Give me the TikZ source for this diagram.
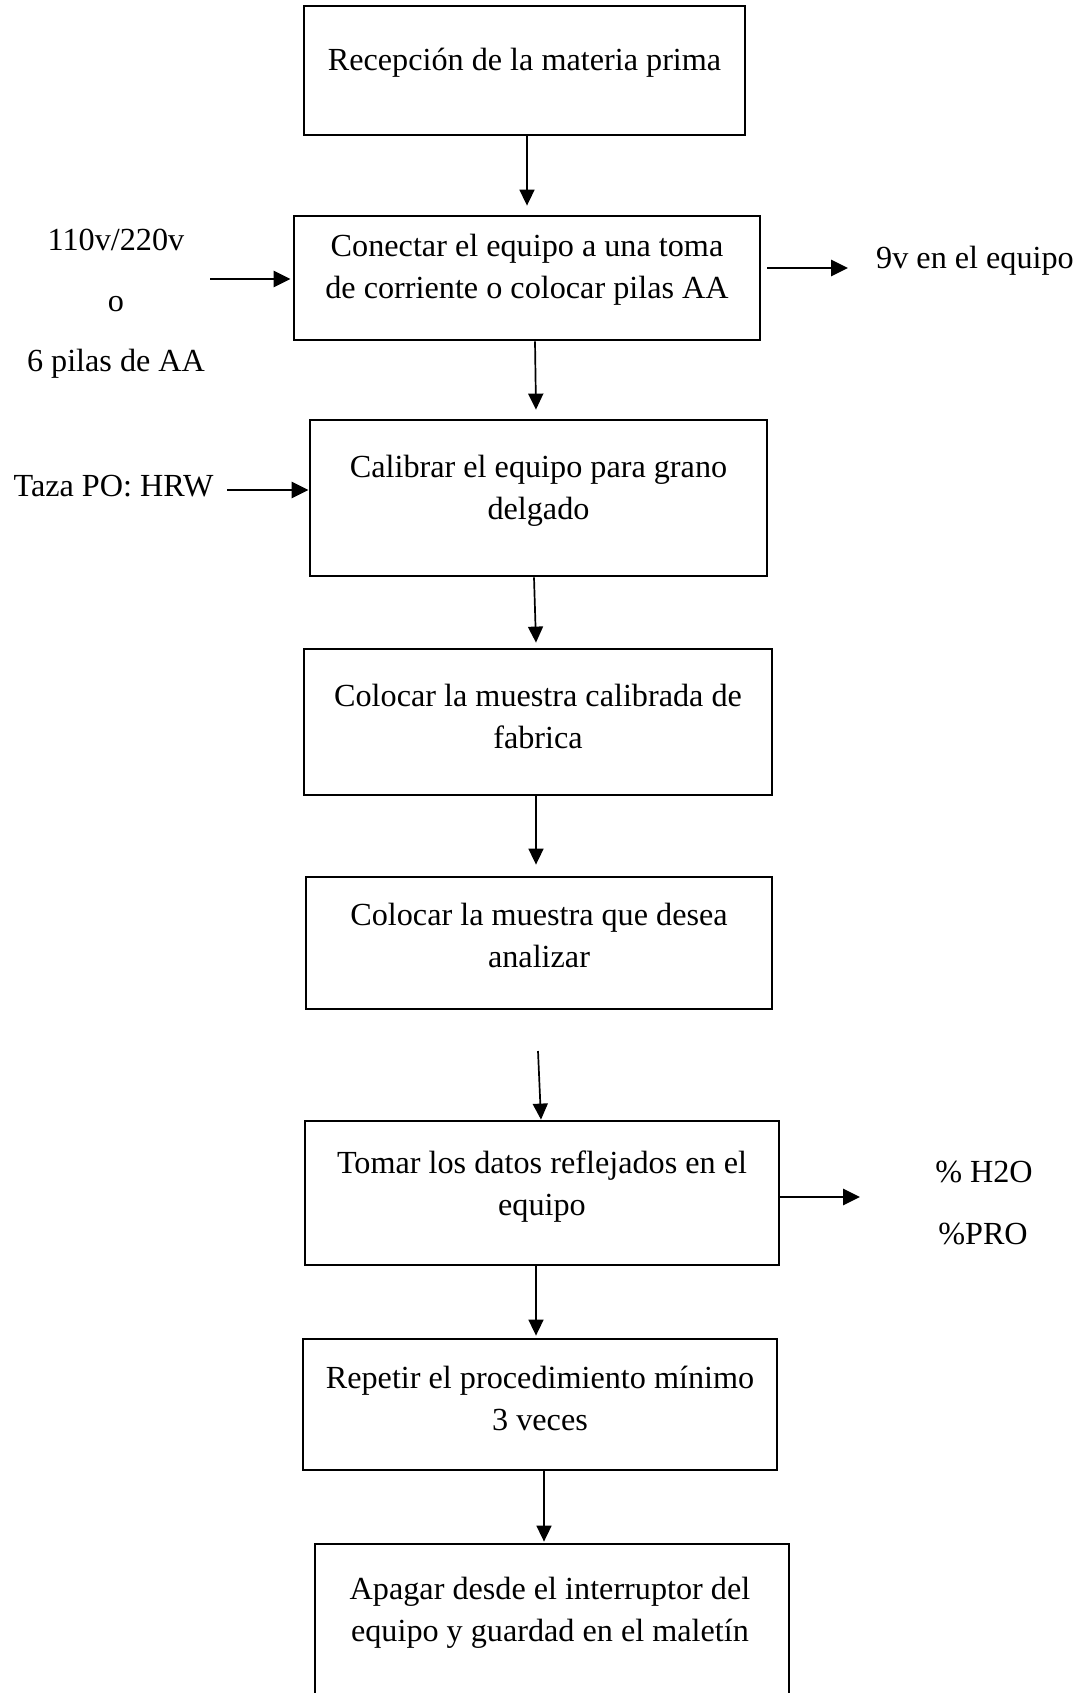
\documentclass[tikz,border=0pt]{standalone}
\usepackage{fontspec}
\setmainfont{Liberation Serif}
\usetikzlibrary{arrows.meta}
\begin{document}
\begin{tikzpicture}[x=1pt,y=-1pt,
  box/.style={draw, line width=2.8pt, inner sep=0pt, rectangle},
  txt/.style={font=\fontsize{32.2pt}{42pt}\selectfont, align=center, inner sep=0pt},
  arr/.style={line width=1.7pt, -{Triangle[length=16pt,width=15pt]}},
  sarr/.style={line width=2.7pt, -{Triangle[length=17pt,width=16pt]}}]
\useasboundingbox (0,0) rectangle (1075,1693);
\clip (0,0) rectangle (1075,1693);

% boxes
\node[box, minimum width=441pt, minimum height=129pt] (b1) at (524.5,70.5) {};
\node[box, minimum width=466pt, minimum height=124pt] (b2) at (527,278) {};
\node[box, minimum width=457pt, minimum height=156pt] (b3) at (538.5,498) {};
\node[box, minimum width=468pt, minimum height=146pt] (b4) at (538,722) {};
\node[box, minimum width=466pt, minimum height=132pt] (b5) at (539,943) {};
\node[box, minimum width=474pt, minimum height=144pt] (b6) at (542,1193) {};
\node[box, minimum width=474pt, minimum height=131pt] (b7) at (540,1404.5) {};
\node[box, minimum width=474pt, minimum height=176pt] (b8) at (552,1632) {};

% box texts
\node[txt] (t1) at (524.5,63) {Recepción de la materia prima};
\node[txt] (t2) at (527,270) {Conectar el equipo a una toma\\de corriente o colocar pilas AA};
\node[txt] (t3) at (538.5,491) {Calibrar el equipo para grano\\delgado};
\node[txt] (t4) at (538,716) {Colocar la muestra calibrada de\\fabrica};
\node[txt] (t5) at (539,935) {Colocar la muestra que desea\\analizar};
\node[txt] (t6) at (542,1187) {Tomar los datos reflejados en el\\equipo};
\node[txt] (t7) at (540,1398) {Repetir el procedimiento mínimo\\3 veces};
\node[txt] (t8) at (550,1613) {Apagar desde el interruptor del\\equipo y guardad en el maletín};

% side texts
\node[txt] (s110) at (116,240) {110v/220v};
\node[txt] (so) at (116,304) {o};
\node[txt] (s6) at (116,364) {6 pilas de AA};
\node[txt] (s9v) at (975,261) {9v en el equipo};
\node[txt] (staza) at (113.5,486) {Taza PO: HRW};
\node[txt] (sh2o) at (984,1172) {\%~H2O};
\node[txt] (spro) at (983,1234) {\%PRO};

% free connector ends
\coordinate (l1) at (210,279);
\coordinate (r1) at (848,268);
\coordinate (l2) at (227,490);
\coordinate (r2) at (860,1197);
\coordinate (a5s) at (538,1051);

% vertical arrows
\draw[arr] ([xshift=2.5pt]b1.south) -- ([yshift=9pt]b2.north);
\draw[arr] ([xshift=8pt]b2.south) -- ([xshift=-2.5pt,yshift=9pt]b3.north);
\draw[arr] ([xshift=-4.5pt]b3.south) -- ([xshift=-2pt,yshift=5pt]b4.north);
\draw[arr] ([xshift=-2pt]b4.south) -- ([xshift=-3pt,yshift=11pt]b5.north);
\draw[arr] (a5s) -- ([xshift=-1pt]b6.north);
\draw[arr] ([xshift=-6pt]b6.south) -- ([xshift=-4pt,yshift=2pt]b7.north);
\draw[arr] ([xshift=4pt]b7.south) -- ([xshift=-8pt,yshift=1pt]b8.north);

% side arrows
\draw[sarr, shorten >=2pt] (l1) -- (l1 -| b2.west);
\draw[sarr, shorten <=6pt] (r1 -| b2.east) -- (r1);
\draw[sarr] (l2) -- (l2 -| b3.west);
\draw[sarr] (r2 -| b6.east) -- (r2);
\end{tikzpicture}
\end{document}
